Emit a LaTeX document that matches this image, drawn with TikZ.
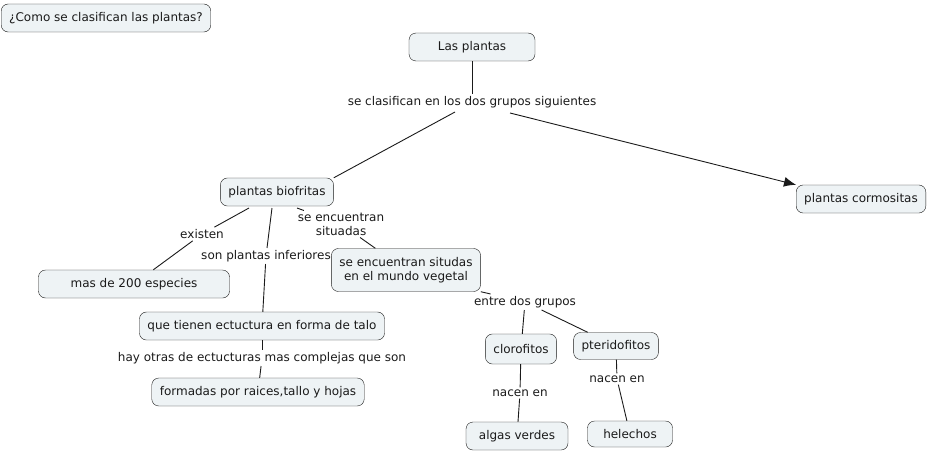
\documentclass[tikz,border=0pt]{standalone}
\usepackage{fontspec}
\setmainfont{DejaVu Sans}
\usepackage{xcolor}
\usetikzlibrary{arrows.meta}
\definecolor{boxfill}{HTML}{EEF3F5}
\definecolor{inkgray}{HTML}{1A1A1A}
\tikzset{
  concept/.style={draw=inkgray,fill=boxfill,rounded corners=7pt,minimum height=28pt,
    inner xsep=8pt,align=center,font=\fontsize{12}{14}\selectfont,text=inkgray},
  linkword/.style={inner sep=2pt,align=center,font=\fontsize{12}{14}\selectfont,text=inkgray},
  link/.style={draw=inkgray,line width=0.9pt},
}
\begin{document}
\begin{tikzpicture}[x=1pt,y=-1pt]
  \useasboundingbox (0,0) rectangle (928,452);
  % concepts
  \node[concept] (pregunta) at (106,18) {¿Como se clasifican las plantas?};
  \node[concept,minimum width=126pt] (plantas) at (472,47) {Las plantas};
  \node[concept] (biofritas) at (277,192) {plantas biofritas};
  \node[concept] (cormositas) at (861,199) {plantas cormositas};
  \node[concept,minimum width=191pt] (especies) at (134,284) {mas de 200 especies};
  \node[concept,minimum height=43pt] (mundo) at (406,270) {se encuentran situdas\\en el mundo vegetal};
  \node[concept] (talo) at (262,326) {que tienen ectuctura en forma de talo};
  \node[concept] (raices) at (258,392) {formadas por raices,tallo y hojas};
  \node[concept,minimum height=30pt] (clorofitos) at (521,349) {clorofitos};
  \node[concept,minimum height=27pt] (pterido) at (616,346) {pteridofitos};
  \node[concept,minimum width=102pt] (algas) at (517,436) {algas verdes};
  \node[concept,minimum width=85pt,minimum height=26pt] (helechos) at (630,434) {helechos};
  % linking words
  \node[linkword] (clasifican) at (472,102) {se clasifican en los dos grupos siguientes};
  \node[linkword] (existen) at (202,234) {existen};
  \node[linkword] (inferiores) at (266,256) {son plantas inferiores};
  \node[linkword] (situadas) at (341,224) {se encuentran\\situadas};
  \node[linkword] (grupos) at (525,302) {entre dos grupos};
  \node[linkword] (complejas) at (262,358) {hay otras de ectucturas mas complejas que son};
  \node[linkword] (nacenA) at (520,393) {nacen en};
  \node[linkword] (nacenB) at (617,379) {nacen en};
  % connectors
  \draw[link] (plantas) -- (clasifican);
  \coordinate (c1) at (455,112);
  \coordinate (c2) at (510,113);
  \draw[link] (c1) -- (biofritas.north east);
  \draw[link,-{Latex[length=12pt,width=10pt]}] (c2) -- (cormositas.north west);
  \coordinate (b1) at (249,208);
  \coordinate (b2) at (272,208);
  \coordinate (b3) at (297,208);
  \draw[link] (b1) -- (existen);
  \draw[link] (existen) -- (especies);
  \draw[link] (b2) -- (inferiores);
  \draw[link] (inferiores) -- (talo);
  \draw[link] (b3) -- (situadas);
  \draw[link] (situadas) -- (mundo);
  \draw[link] (mundo.south east) -- (grupos);
  \draw[link] (grupos) -- (clorofitos);
  \draw[link] (grupos) -- (pterido);
  \draw[link] (clorofitos) -- (nacenA);
  \draw[link] (nacenA) -- (algas);
  \draw[link] (pterido) -- (nacenB);
  \draw[link] (nacenB) -- (helechos);
  \draw[link] (talo) -- (complejas);
  \draw[link] (complejas) -- (raices);
\end{tikzpicture}
\end{document}
